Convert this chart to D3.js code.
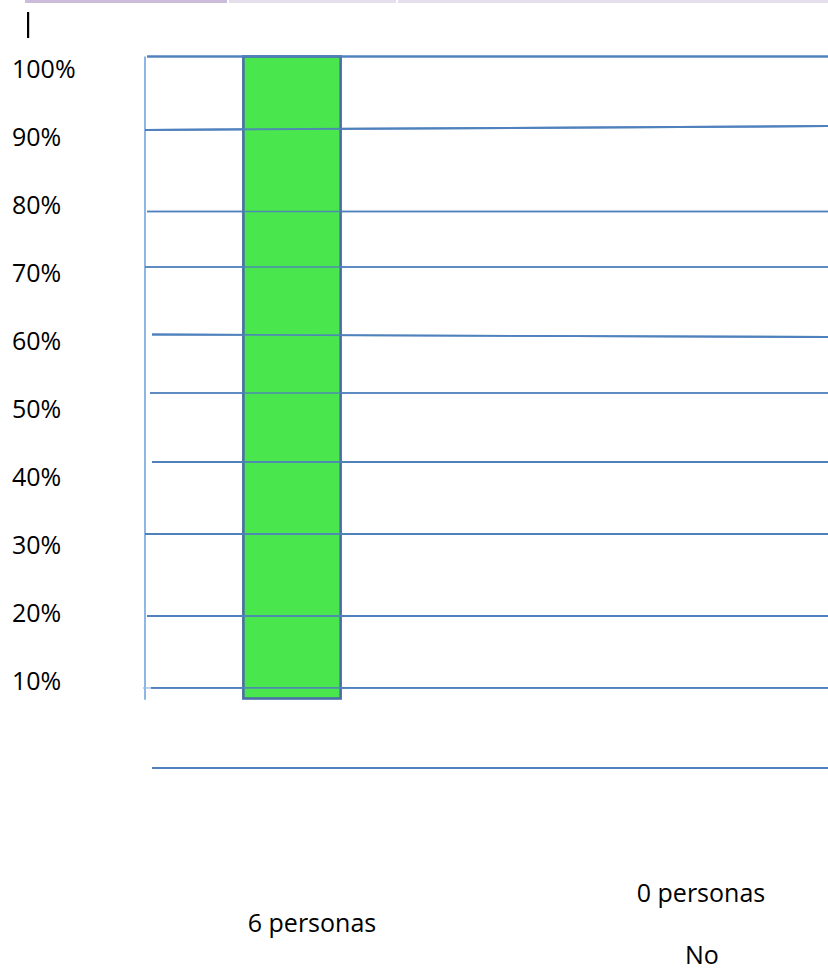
<!DOCTYPE html>
<html>
<head>
<meta charset="utf-8">
<script src="https://cdn.jsdelivr.net/npm/d3@7"></script>
<style>
  html, body { margin: 0; padding: 0; background: #ffffff; }
  svg { display: block; }
</style>
</head>
<body>
<svg id="chart" width="828" height="973"></svg>
<script>
// ---------- DATA ----------
const categories = ["6 personas", "0 personas"];
const values = [100, 0];
const subLabels = ["", "No"];
const yTickLabels = ["100%", "90%", "80%", "70%", "60%", "50%", "40%", "30%", "20%", "10%"];
// hand-drawn gridlines, in value units (left end, right end)
const gridLeft  = [100, 88.55, 75.86, 67.21, 56.70, 47.59, 36.84, 25.62, 12.85, 1.64, -10.83];
const gridRight = [100, 89.17, 75.86, 67.21, 56.31, 47.59, 36.84, 25.62, 12.85, 1.64, -10.83];

// ---------- LAYOUT ----------
const W = 828, H = 973;
const svg = d3.select("#chart");
const font = "'Open Sans', 'Noto Sans', sans-serif";

const y = d3.scaleLinear().domain([0, 100]).range([698.5, 56.5]);
const x = d3.scaleBand().domain(categories).range([145, 828])
  .paddingInner(0.75).paddingOuter(0.2529);
const yLab = d3.scalePoint().domain(yTickLabels).range([69, 681]);

// left start of each drawn gridline (px)
const gridStartX = [147, 145, 147, 145, 152, 150, 152, 145, 147, 151, 152];
const gridWidth  = [2.2, 2, 1.4, 1.4, 1.8, 1.4, 1.8, 1.8, 2, 1.8, 2];

// top decorative strip
svg.append("rect").attr("x", 25).attr("y", 0).attr("width", 202).attr("height", 3).attr("fill", "#cbbdd9");
svg.append("rect").attr("x", 229).attr("y", 0).attr("width", 167).attr("height", 3).attr("fill", "#e5deed");
svg.append("rect").attr("x", 398).attr("y", 0).attr("width", 430).attr("height", 3).attr("fill", "#e5deed");
// text cursor
svg.append("rect").attr("x", 27).attr("y", 12).attr("width", 2.2).attr("height", 26).attr("fill", "#000");

// vertical axis line
svg.append("line")
  .attr("x1", 145).attr("x2", 145)
  .attr("y1", y(100)).attr("y2", y(-0.2))
  .attr("stroke", "#8db6e4").attr("stroke-width", 2);

// small tick at the 10% line
svg.append("line")
  .attr("x1", 143).attr("x2", 151)
  .attr("y1", y(gridLeft[9])).attr("y2", y(gridLeft[9]))
  .attr("stroke", "#8db6e4").attr("stroke-width", 1.2);

const gridData = gridLeft.map((v, i) => ({ l: v, r: gridRight[i], i }));

// gridlines
svg.append("g").selectAll("line")
  .data(gridData)
  .join("line")
  .attr("x1", d => gridStartX[d.i])
  .attr("x2", W)
  .attr("y1", d => y(d.l))
  .attr("y2", d => y(d.r))
  .attr("stroke", "#4f81bd")
  .attr("stroke-width", d => gridWidth[d.i]);

// bars
svg.append("g").selectAll("rect")
  .data(categories.map((c, i) => ({ c, v: values[i] })).filter(d => d.v > 0))
  .join("rect")
  .attr("x", d => x(d.c))
  .attr("width", x.bandwidth())
  .attr("y", d => y(d.v))
  .attr("height", d => y(0) - y(d.v))
  .attr("fill", "#4ae64e")
  .attr("stroke", "#4a6fa5")
  .attr("stroke-width", 2.6);

// gridlines cross over the bar in the reference
svg.append("g").selectAll("line")
  .data(gridData)
  .join("line")
  .attr("x1", d => gridStartX[d.i])
  .attr("x2", W)
  .attr("y1", d => y(d.l))
  .attr("y2", d => y(d.r))
  .attr("stroke", "#4f81bd")
  .attr("stroke-opacity", 0.9)
  .attr("stroke-width", d => gridWidth[d.i]);

// y tick labels
svg.append("g").selectAll("text")
  .data(yTickLabels)
  .join("text")
  .attr("x", 12)
  .attr("y", d => yLab(d))
  .attr("dy", "0.36em")
  .attr("font-family", font)
  .attr("font-size", 25)
  .attr("fill", "#000")
  .text(d => d);

// category labels
const catY = [932, 902];
svg.append("g").selectAll("text")
  .data(categories)
  .join("text")
  .attr("x", d => x(d) + x.bandwidth() / 2 + 20)
  .attr("y", (d, i) => catY[i])
  .attr("text-anchor", "middle")
  .attr("font-family", font)
  .attr("font-size", 25)
  .attr("fill", "#000")
  .text(d => d);

svg.append("g").selectAll("text")
  .data(categories.map((c, i) => ({ c, s: subLabels[i] })).filter(d => d.s))
  .join("text")
  .attr("x", d => x(d.c) + x.bandwidth() / 2 + 21)
  .attr("y", 964)
  .attr("text-anchor", "middle")
  .attr("font-family", font)
  .attr("font-size", 25)
  .attr("fill", "#000")
  .text(d => d.s);
</script>
</body>
</html>
